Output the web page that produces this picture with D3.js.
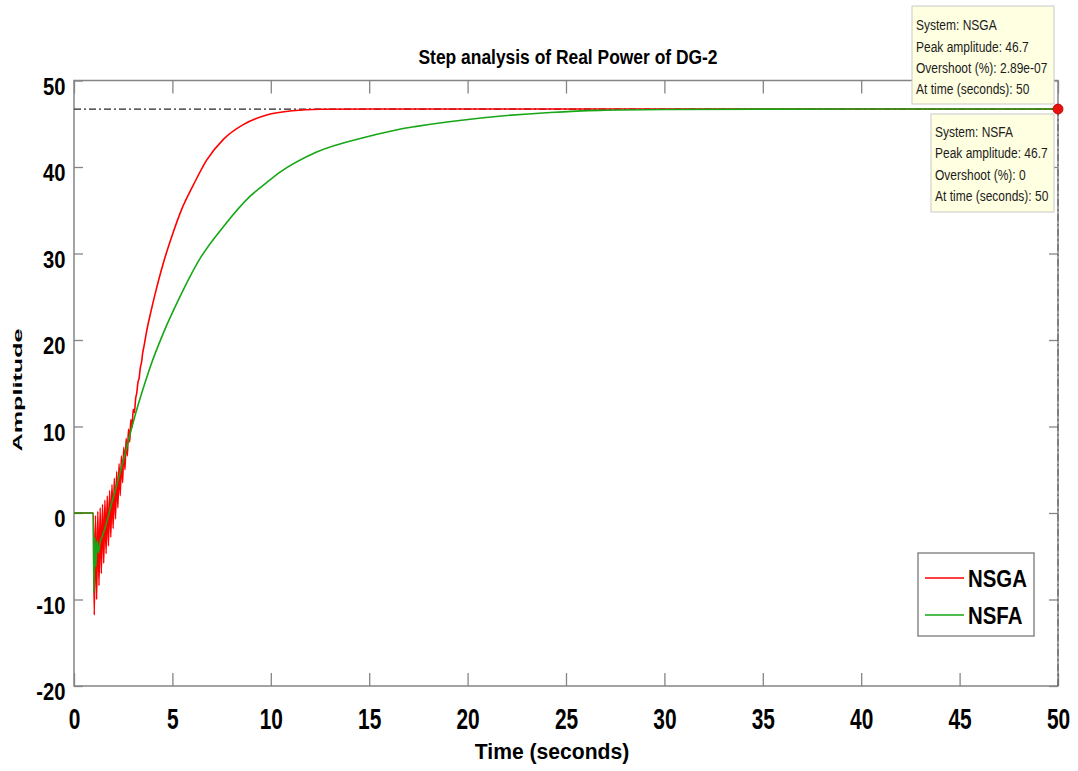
<!DOCTYPE html>
<html>
<head>
<meta charset="utf-8">
<script src="https://cdn.jsdelivr.net/npm/d3@7/dist/d3.min.js"></script>
<style>
  html, body { margin: 0; padding: 0; background: #fff; }
  svg { display: block; font-family: "Liberation Sans", Arial, sans-serif; }
</style>
</head>
<body>
<svg id="chart" width="1078" height="771"></svg>
<script>
// Step response of the real power of DG-2 for the two tuned controllers.
const nsgaTime = [0, 0.98, 1.03, 1.09, 1.15, 1.21, 1.27, 1.33, 1.39, 1.45, 1.51, 1.57, 1.63, 1.69,
  1.75, 1.81, 1.87, 1.93, 1.99, 2.05, 2.11, 2.17, 2.23, 2.29, 2.35, 2.41, 2.47, 2.53, 2.59, 2.65,
  2.71, 2.77, 2.83, 2.89, 2.95, 3.01, 3.07, 3.13, 3.19, 3.25, 3.31, 3.37, 3.43, 3.49, 3.55,
  3.69, 3.9, 4.12, 4.54, 4.96, 5.47, 6.06, 6.74, 7.59, 8.6, 9.79, 11.1, 12.5, 15, 20, 30, 40, 50];
const nsgaAmp = [0, 0, -11.8, -0.3, -10.0, 0.2, -8.4, 0.6, -7.0, 1.0, -5.8, 1.5, -4.7, 2.0,
  -3.8, 2.6, -2.8, 3.3, -1.8, 4.0, -0.7, 4.8, 0.6, 5.7, 2.0, 6.6, 3.5, 7.6, 5.0, 8.6,
  6.6, 9.7, 8.2, 10.8, 9.9, 12.0, 11.6, 13.2, 13.9, 15.1, 15.6, 16.8, 17.4, 18.5, 19.2,
  21.0, 23.2, 25.3, 28.9, 31.9, 35.1, 37.9, 40.8, 43.2, 44.9, 46.0, 46.5, 46.67, 46.7, 46.7, 46.7, 46.7, 46.7];

const nsfaTime = [0, 0.98, 1.01, 1.06, 1.11, 1.17, 1.24, 1.32, 1.45, 1.58, 1.91, 2.25, 2.59, 2.95,
  3.27, 3.6, 3.86, 4.54, 5.3, 6.4, 7.59, 8.94, 9.79, 10.47, 12.3, 14.9, 16.6, 17.4,
  20.8, 24.2, 26.7, 30, 35, 40, 50];
const nsfaAmp = [0, 0, -9.2, -2.8, -6.2, -3.2, -4.6, -3.4, -2.6, -1.7, 1.1, 3.9, 6.8, 10.0,
  12.6, 15.0, 16.8, 20.8, 24.6, 29.4, 33.1, 36.6, 38.2, 39.4, 41.7, 43.5, 44.4, 44.7,
  45.7, 46.3, 46.55, 46.65, 46.69, 46.7, 46.7];

const seriesNames = ["NSGA", "NSFA"];
const seriesColors = ["#ff0000", "#16a616"];

const xTicks = [0, 5, 10, 15, 20, 25, 30, 35, 40, 45, 50];
const yTicks = [-20, -10, 0, 10, 20, 30, 40, 50];

// Peak-response characteristic shown by the data tips
const peakTime = 50;
const peakAmp = 46.7;
const overshoots = ["2.89e-07", "0"];

const svg = d3.select("#chart");
const plot = { left: 74, right: 1058, top: 80.5, bottom: 686 };

const x = d3.scaleLinear().domain([0, 50]).range([plot.left, plot.right]);
const y = d3.scaleLinear().domain([-20, 50]).range([plot.bottom, plot.top]);

const axisColor = "#858585";
const tickText = d => String(d);

// Text with a horizontal condensing factor
function label(parent, px, py, str, opt) {
  const g = parent.append("g").attr("transform", `translate(${px},${py}) scale(${opt.sx || 1},${opt.sy || 1})`);
  return g.append("text")
    .attr("x", 0).attr("y", 0)
    .attr("text-anchor", opt.anchor || "start")
    .attr("font-size", opt.size)
    .attr("font-weight", opt.weight || "normal")
    .attr("fill", opt.fill || "#000")
    .text(str);
}

// Axes box with inward ticks on all four sides
function styleAxis(g) {
  g.select(".domain").remove();
  g.selectAll(".tick line").attr("stroke", axisColor).attr("stroke-width", 1.3);
}

const gBottom = svg.append("g").attr("transform", `translate(0,${plot.bottom})`)
  .call(d3.axisBottom(x).tickValues(xTicks).tickSizeInner(-13).tickSizeOuter(0).tickPadding(22).tickFormat(tickText));
styleAxis(gBottom);
gBottom.selectAll(".tick text")
  .attr("font-size", 29).attr("font-weight", "bold").attr("fill", "#000")
  .attr("font-family", "\"Liberation Sans\", Arial, sans-serif")
  .attr("transform", "scale(0.72,1)");

const gTop = svg.append("g").attr("transform", `translate(0,${plot.top})`)
  .call(d3.axisTop(x).tickValues(xTicks).tickSizeInner(-13).tickSizeOuter(0).tickFormat(""));
styleAxis(gTop);

const gLeft = svg.append("g").attr("transform", `translate(${plot.left},0)`)
  .call(d3.axisLeft(y).tickValues(yTicks).tickSizeInner(-9).tickSizeOuter(0).tickPadding(10).tickFormat(tickText));
styleAxis(gLeft);
gLeft.selectAll(".tick text")
  .attr("font-size", 23.5).attr("font-weight", "bold").attr("fill", "#000")
  .attr("font-family", "\"Liberation Sans\", Arial, sans-serif")
  .attr("dy", "0.58em")
  .attr("transform", "scale(0.86,1)");

const gRight = svg.append("g").attr("transform", `translate(${plot.right},0)`)
  .call(d3.axisRight(y).tickValues(yTicks).tickSizeInner(-9).tickSizeOuter(0).tickFormat(""));
styleAxis(gRight);

svg.append("rect")
  .attr("x", plot.left).attr("y", plot.top)
  .attr("width", plot.right - plot.left).attr("height", plot.bottom - plot.top)
  .attr("fill", "none").attr("stroke", axisColor).attr("stroke-width", 1.5);

// Peak response guide lines
svg.append("line")
  .attr("x1", x(0)).attr("x2", x(peakTime))
  .attr("y1", y(peakAmp)).attr("y2", y(peakAmp))
  .attr("stroke", "#262626").attr("stroke-width", 1.2)
  .attr("stroke-dasharray", "7,3,2,3");
svg.append("line")
  .attr("x1", x(peakTime)).attr("x2", x(peakTime))
  .attr("y1", y(peakAmp)).attr("y2", y(-20))
  .attr("stroke", "#5a5a5a").attr("stroke-width", 1)
  .attr("stroke-dasharray", "7,3,2,3");

// Response curves
const line = d3.line().x(d => x(d[0])).y(d => y(d[1])).curve(d3.curveMonotoneX);
const nsgaData = nsgaTime.map((t, i) => [t, nsgaAmp[i]]);
const nsfaData = nsfaTime.map((t, i) => [t, nsfaAmp[i]]);

svg.append("path").datum(nsgaData)
  .attr("d", line).attr("fill", "none")
  .attr("stroke", seriesColors[0]).attr("stroke-width", 1.6).attr("stroke-linejoin", "round");
svg.append("path").datum(nsfaData)
  .attr("d", line).attr("fill", "none")
  .attr("stroke", seriesColors[1]).attr("stroke-width", 1.6).attr("stroke-linejoin", "round");

// Peak marker
svg.append("circle")
  .attr("cx", x(peakTime)).attr("cy", y(peakAmp)).attr("r", 5)
  .attr("fill", "#e8120c").attr("stroke", "#b00000").attr("stroke-width", 0.8);

// Title and axis labels
label(svg, 568, 64, "Step analysis of Real Power of DG-2", { size: 21, weight: "bold", sx: 0.83, anchor: "middle" });
label(svg, 552, 759, "Time (seconds)", { size: 22, weight: "bold", sx: 0.96, anchor: "middle" });
svg.append("g").attr("transform", "translate(21.5,390) rotate(-90) scale(1.4,0.72)")
  .append("text").attr("text-anchor", "middle").attr("font-size", 18).attr("font-weight", "bold")
  .text("Amplitude");

// Legend
const legend = svg.append("g");
legend.append("rect")
  .attr("x", 918).attr("y", 553).attr("width", 116).attr("height", 83)
  .attr("fill", "#fff").attr("stroke", "#8a8a8a").attr("stroke-width", 1.5);
const legendRows = [578, 615];
seriesNames.forEach((name, i) => {
  legend.append("line")
    .attr("x1", 925).attr("x2", 964)
    .attr("y1", legendRows[i]).attr("y2", legendRows[i])
    .attr("stroke", seriesColors[i]).attr("stroke-width", 1.6);
  label(legend, 968, legendRows[i] + 9, name, { size: 24, weight: "bold", sx: 0.85 });
});

// Data tips
function dataTip(bx, by, bw, bh, tx, baselines, lines) {
  const g = svg.append("g");
  g.append("rect").attr("x", bx).attr("y", by).attr("width", bw).attr("height", bh)
    .attr("fill", "#ffffe1").attr("stroke", "#c9c9c9").attr("stroke-width", 1);
  lines.forEach((s, i) => label(g, tx, baselines[i], s, { size: 15, sx: 0.8, fill: "#1c1c1c" }));
}
const fmt = d3.format(".1f");
dataTip(912, 6, 142, 98, 916, [30, 51.5, 73, 94], [
  "System: " + seriesNames[0],
  "Peak amplitude: " + fmt(peakAmp),
  "Overshoot (%): " + overshoots[0],
  "At time (seconds): " + peakTime
]);
dataTip(931, 114, 123, 98, 935, [137, 158, 180, 201], [
  "System: " + seriesNames[1],
  "Peak amplitude: " + fmt(peakAmp),
  "Overshoot (%): " + overshoots[1],
  "At time (seconds): " + peakTime
]);
</script>
</body>
</html>
